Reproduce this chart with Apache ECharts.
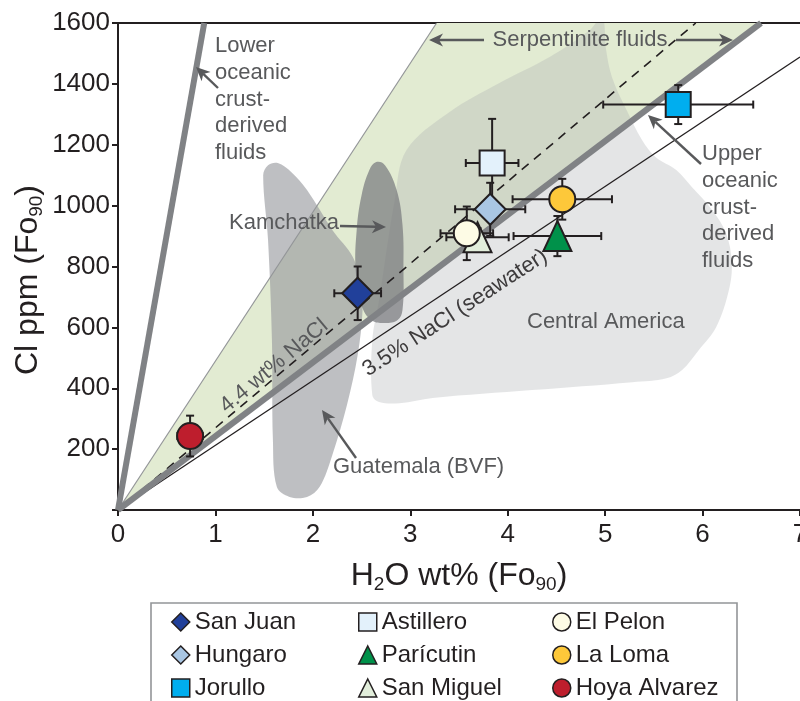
<!DOCTYPE html>
<html>
<head>
<meta charset="utf-8">
<script src="https://cdn.jsdelivr.net/npm/echarts@6/dist/echarts.min.js"></script>
<style>
  html, body { margin: 0; padding: 0; background: #ffffff; }
  #chart { width: 800px; height: 701px; }
</style>
</head>
<body>
<div id="chart"></div>
<script>
// Melt-inclusion Cl vs H2O, normalised to Fo90 olivine
const sites    = ['San Juan', 'Hungaro', 'Jorullo', 'Astillero', 'Parícutin', 'San Miguel', 'El Pelon', 'La Loma', 'Hoya Alvarez'];
const h2o      = [2.46, 3.82, 5.75, 3.84, 4.51, 3.69, 3.58, 4.56, 0.74];
const cl       = [712, 988, 1332, 1140, 900, 896, 909, 1021, 243];
const h2oErr   = [0.24, 0.36, 0.77, 0.27, 0.45, 0.32, 0.27, 0.51, 0.13];
const clErr    = [88, 87, 64, 145, 66, 30, 88, 67, 67];
const symbols  = ['diamond', 'diamond', 'rect', 'rect', 'triangle', 'triangle', 'circle', 'circle', 'circle'];
const fills    = ['#21409a', '#a9c6e3', '#00aeef', '#e3f1fb', '#00914a', '#e2eedb', '#fdfbe5', '#fdc83a', '#be1e2d'];

// Legend columns
const legendCols = [
  ['San Juan', 'Hungaro', 'Jorullo'],
  ['Astillero', 'Parícutin', 'San Miguel'],
  ['El Pelon', 'La Loma', 'Hoya Alvarez']
];

// Fluid reference lines (from the origin)
const lowerCrustLine = [[0, 0], [0.885, 1600]];
const upperCrustLine = [[0, 0], [6.6, 1600]];
const seawaterLine   = [[0, 0], [7.0, 1488]];
const nacl44Line     = [[0, 0], [5.93, 1600]];

// Shaded fields
const serpentiniteField = [[0, 0], [3.27, 1600], [6.6, 1600]];
const centralAmerica = [
  [2.61, 378], [2.61, 558], [2.68, 690], [2.84, 1018], [2.96, 1182], [3.40, 1307], [3.91, 1402],
  [4.43, 1488], [4.84, 1576], [4.97, 1620], [5.01, 1511], [5.07, 1422], [5.22, 1314], [5.38, 1215],
  [5.52, 1159], [5.73, 1117], [5.89, 1061], [6.10, 985], [6.24, 910], [6.30, 814], [6.27, 722],
  [6.14, 601], [5.96, 525], [5.79, 460], [5.63, 433], [5.28, 420], [4.25, 394], [3.23, 368],
  [2.89, 351], [2.68, 355]
];
const guatemala = [
  [1.49, 1100], [1.54, 1133], [1.64, 1140], [1.78, 1110], [1.94, 1051], [2.20, 920], [2.41, 831],
  [2.49, 739], [2.51, 657], [2.46, 509], [2.35, 345], [2.20, 181], [2.07, 76], [1.94, 43],
  [1.76, 43], [1.63, 76], [1.59, 230], [1.58, 558], [1.54, 887]
];
const kamchatka = [
  [2.65, 1143], [2.74, 1133], [2.86, 1051], [2.92, 936], [2.93, 788], [2.92, 657], [2.87, 624],
  [2.74, 614], [2.60, 624], [2.50, 673], [2.44, 788], [2.45, 920], [2.50, 1034], [2.58, 1117]
];

const INK = '#231f20';
const NOTE = '#58595b';
const SANS = "'Liberation Sans', Arial, Helvetica, sans-serif";

const chart = echarts.init(document.getElementById('chart'), null, { renderer: 'canvas' });

function field(name, pts, fill, z, smooth) {
  return {
    type: 'custom', name: name, z: z, silent: true, clip: true,
    data: [[pts[0][0], pts[0][1]]],
    renderItem: function (params, api) {
      return {
        type: 'polygon',
        shape: { points: pts.map(function (p) { return api.coord(p); }), smooth: smooth || 0 },
        style: { fill: fill }
      };
    }
  };
}

function refLine(name, pts, color, width, dash, z) {
  return {
    type: 'line', name: name, data: pts, z: z, silent: true, showSymbol: false,
    lineStyle: { color: color, width: width, type: dash || 'solid' }, animation: false
  };
}

const errorBars = {
  type: 'custom', name: 'errors', z: 5, silent: true, clip: false,
  data: sites.map(function (s, i) { return [h2o[i], cl[i], h2oErr[i], clErr[i]]; }),
  encode: { x: 0, y: 1 },
  renderItem: function (params, api) {
    const x = api.value(0), y = api.value(1), ex = api.value(2), ey = api.value(3);
    const l = api.coord([x - ex, y]), r = api.coord([x + ex, y]);
    const t = api.coord([x, y + ey]), b = api.coord([x, y - ey]);
    const c = 4;
    const st = { stroke: INK, lineWidth: 2 };
    return {
      type: 'group',
      children: [
        { type: 'line', shape: { x1: l[0], y1: l[1], x2: r[0], y2: r[1] }, style: st },
        { type: 'line', shape: { x1: t[0], y1: t[1], x2: b[0], y2: b[1] }, style: st },
        { type: 'line', shape: { x1: l[0], y1: l[1] - c, x2: l[0], y2: l[1] + c }, style: st },
        { type: 'line', shape: { x1: r[0], y1: r[1] - c, x2: r[0], y2: r[1] + c }, style: st },
        { type: 'line', shape: { x1: t[0] - c, y1: t[1], x2: t[0] + c, y2: t[1] }, style: st },
        { type: 'line', shape: { x1: b[0] - c, y1: b[1], x2: b[0] + c, y2: b[1] }, style: st }
      ]
    };
  }
};

const symbolSizes = { diamond: [31, 31], rect: [25, 25], triangle: [28, 30], circle: [26, 26] };
// drawing order: later entries sit on top
const drawOrder = [0, 3, 1, 2, 7, 4, 5, 6, 8];
const siteSeries = drawOrder.map(function (i) {
  return {
    type: 'scatter', name: sites[i], z: 6,
    data: [[h2o[i], cl[i]]],
    symbol: symbols[i], symbolSize: symbolSizes[symbols[i]],
    itemStyle: { color: fills[i], borderColor: INK, borderWidth: 2, opacity: 1 },
    emphasis: { disabled: true }, animation: false
  };
});

const legendLefts = [171, 358, 552];
const legends = legendCols.map(function (col, k) {
  return {
    data: col, orient: 'vertical', left: legendLefts[k], top: 610,
    itemWidth: 18, itemHeight: 18, itemGap: 9, padding: 0, selectedMode: false,
    textStyle: { fontFamily: SANS, fontSize: 24, color: INK, lineHeight: 24 },
    itemStyle: { borderWidth: 1.5, borderColor: INK }
  };
});

function arrow(x1, y1, x2, y2) {
  const dx = x2 - x1, dy = y2 - y1, L = Math.hypot(dx, dy), ux = dx / L, uy = dy / L;
  const hl = 14, hw = 6.5;
  const bx = x2 - ux * hl, by = y2 - uy * hl;
  const nx = x2 - ux * (hl - 4), ny = y2 - uy * (hl - 4);
  return [
    { type: 'line', z: 20, shape: { x1: x1, y1: y1, x2: nx, y2: ny }, style: { stroke: NOTE, lineWidth: 2.4 } },
    { type: 'polygon', z: 20, shape: { points: [[x2, y2], [bx - uy * hw, by + ux * hw], [nx, ny], [bx + uy * hw, by - ux * hw]] }, style: { fill: NOTE } }
  ];
}

function note(text, x, y, opts) {
  opts = opts || {};
  return {
    type: 'text', z: 20, x: x, y: y, rotation: opts.rot || 0,
    style: {
      text: text, x: 0, y: 0, fill: opts.color || NOTE, fontFamily: SANS, fontSize: opts.size || 22,
      lineHeight: opts.lh || 26.6, align: opts.align || 'left', verticalAlign: opts.va || 'middle'
    }
  };
}

const titleRich = {
  a: { fontFamily: SANS, fontSize: 32, color: INK, fill: INK },
  s: { fontFamily: SANS, fontSize: 19, padding: [17, 0, 0, 0], color: INK, fill: INK }
};

const graphics = [
  { type: 'rect', z: 20, shape: { x: 151, y: 603, width: 586, height: 120 }, style: { fill: 'none', stroke: '#939598', lineWidth: 1.6 } },
  note('Lower\noceanic\ncrust-\nderived\nfluids', 215, 33, { va: 'top' }),
  note('Kamchatka', 229, 223),
  note('Serpentinite fluids', 580, 40, { align: 'center' }),
  note('Upper\noceanic\ncrust-\nderived\nfluids', 702, 141, { va: 'top' }),
  note('Central America', 527, 322),
  note('Guatemala (BVF)', 333, 467),
  note('4.4 wt% NaCl', 274, 366, { align: 'center', rot: 40 * Math.PI / 180 }),
  note('3.5% NaCl (seawater)', 455, 313, { align: 'center', rot: 33 * Math.PI / 180, color: '#3d3b3c' }),
  {
    type: 'text', z: 20, x: 459, y: 576,
    style: { text: '{a|H}{s|2}{a|O wt% (Fo}{s|90}{a|)}', rich: titleRich, align: 'center', verticalAlign: 'middle', x: 0, y: 0 }
  },
  {
    type: 'text', z: 20, x: 28, y: 280, rotation: Math.PI / 2,
    style: { text: '{a|Cl ppm (Fo}{s|90}{a|)}', rich: titleRich, align: 'center', verticalAlign: 'middle', x: 0, y: 0 }
  }
]
  .concat(arrow(218, 88, 196, 67))
  .concat(arrow(340, 226, 386, 227))
  .concat(arrow(484, 40, 429, 40))
  .concat(arrow(676, 40, 733, 40))
  .concat(arrow(701, 164, 648, 115))
  .concat(arrow(356, 458, 322, 410));

const axisLineStyle = { color: INK, width: 2 };

const option = {
  backgroundColor: '#ffffff',
  animation: false,
  grid: { left: 118, right: 0, top: 23, bottom: 191, containLabel: false, outerBoundsMode: 'none' },
  legend: legends,
  xAxis: [
    {
      type: 'value', min: 0, max: 7, interval: 1, position: 'bottom',
      axisLine: { show: true, lineStyle: axisLineStyle, onZero: false },
      axisTick: { show: true, length: 6, lineStyle: axisLineStyle },
      axisLabel: { fontFamily: SANS, fontSize: 26, color: INK, margin: 12, showMaxLabel: true, hideOverlap: false },
      splitLine: { show: false }
    },
    {
      type: 'value', min: 0, max: 7, position: 'top',
      axisLine: { show: true, lineStyle: axisLineStyle, onZero: false },
      axisTick: { show: false }, axisLabel: { show: false }, splitLine: { show: false }
    }
  ],
  yAxis: {
    type: 'value', min: 0, max: 1600, interval: 200,
    axisLine: { show: true, lineStyle: axisLineStyle, onZero: false },
    axisTick: { show: true, length: 6, lineStyle: axisLineStyle },
    axisLabel: {
      fontFamily: SANS, fontSize: 26, color: INK, margin: 8,
      formatter: function (v) { return v === 0 ? '' : String(v); }
    },
    splitLine: { show: false }
  },
  series: [
    field('Serpentinite fluids', serpentiniteField, '#e2ebd2', 1, 0),
    field('Central America', centralAmerica, 'rgba(170,173,178,0.32)', 1, 0.35),
    field('Guatemala (BVF)', guatemala, 'rgba(150,152,156,0.62)', 1, 0.35),
    field('Kamchatka', kamchatka, 'rgba(120,122,126,0.72)', 1, 0.4),
    refLine('Serpentinite limit', [serpentiniteField[0], serpentiniteField[1]], '#939598', 1.2, null, 2),
    refLine('3.5% NaCl', seawaterLine, INK, 1.3, null, 3),
    refLine('4.4 wt% NaCl', nacl44Line, INK, 1.6, [9, 7], 3),
    refLine('Upper oceanic crust', upperCrustLine, '#808285', 6, null, 3),
    refLine('Lower oceanic crust', lowerCrustLine, '#808285', 6, null, 3),
    errorBars
  ].concat(siteSeries),
  graphic: graphics
};

chart.setOption(option);
</script>
</body>
</html>
